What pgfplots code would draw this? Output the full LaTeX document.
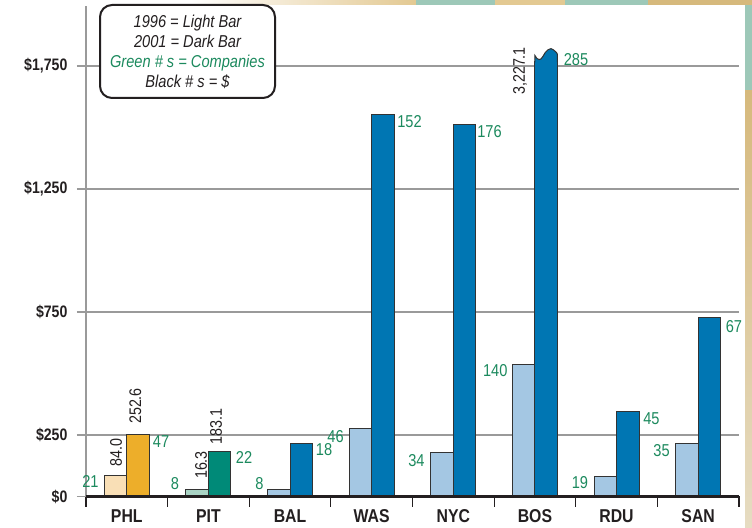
\documentclass[border=0pt]{standalone}
\usepackage{pgfplots}
\pgfplotsset{compat=1.18}
\usepackage{fontspec}
\setmainfont{Liberation Sans}[FakeStretch=0.85]
\definecolor{txt}{HTML}{231F20}
\definecolor{gnum}{HTML}{1C8A5E}
\definecolor{gridc}{HTML}{9A9A9A}
\definecolor{barline}{HTML}{333333}
\definecolor{phlL}{HTML}{F9DFB6}
\definecolor{phlD}{HTML}{EDAE2A}
\definecolor{pitL}{HTML}{A9D3C4}
\definecolor{pitD}{HTML}{008A78}
\definecolor{bluL}{HTML}{A4C7E3}
\definecolor{bluD}{HTML}{0076B3}
\definecolor{tanA}{HTML}{E3C992}
\definecolor{tanB}{HTML}{D6B97C}
\definecolor{tanC}{HTML}{E6DCC2}
\definecolor{tealA}{HTML}{9DC8B8}
\begin{document}
\begin{tikzpicture}
\useasboundingbox (0,0) rectangle (376pt,264pt);
\fill[white] (0,0) rectangle (376pt,264pt);
% decorative strips
\shade[left color=white, right color=tanA] (95pt,261.5pt) rectangle (208pt,264pt);
\fill[tealA] (208pt,261.5pt) rectangle (247.5pt,264pt);
\fill[tanA] (247.5pt,261.5pt) rectangle (282.5pt,264pt);
\fill[tealA] (282.5pt,261.5pt) rectangle (324pt,264pt);
\fill[tanB] (324pt,261.5pt) rectangle (376pt,264pt);
\shade[top color=tanB, bottom color=tanC] (372.5pt,0pt) rectangle (376pt,219pt);
\fill[tealA] (372.5pt,219pt) rectangle (376pt,261.5pt);
\begin{axis}[
  scale only axis, width=326.5pt, height=245.25pt,
  at={(43pt,15.75pt)}, anchor=south west,
  xmin=-0.5, xmax=7.5, ymin=0, ymax=1994,
  axis x line*=bottom, axis y line*=left,
  x axis line style={line width=1.5pt, draw=txt},
  y axis line style={line width=0.6pt, draw=gridc},
  xtick={0,...,7}, xticklabels={PHL,PIT,BAL,WAS,NYC,BOS,RDU,SAN},
  minor xtick={-0.5,0.5,...,7.5},
  every major x tick/.append style={draw=none},
  every minor x tick/.append style={draw=txt, line width=0.6pt},
  minor tick length=5.25pt,
  ytick={0,250,750,1250,1750},
  yticklabels={\$0,\$250,\$750,{\$1,250},{\$1,750}},
  major tick length=4.5pt,
  every major y tick/.append style={draw=gridc, line width=0.6pt},
  tick align=outside,
  ymajorgrids, grid style={draw=gridc, line width=0.65pt},
  yticklabel style={font=\fontsize{8.3}{9}\selectfont\bfseries, text=txt, anchor=east, inner sep=0pt, xshift=-4.6pt},
  xticklabel style={font=\fontsize{9.3}{10}\selectfont\bfseries, text=txt, anchor=north, inner sep=0pt, yshift=-2pt},
  clip=false,
]
% light bars
\addplot[ybar, bar width=11.25pt, bar shift=-5.625pt, fill=phlL, draw=barline, line width=0.5pt] coordinates {(0,84.0)};
\addplot[ybar, bar width=11.25pt, bar shift=5.625pt, fill=phlD, draw=barline, line width=0.5pt] coordinates {(0,252.6)};
\addplot[ybar, bar width=11.25pt, bar shift=-5.625pt, fill=pitL, draw=barline, line width=0.5pt] coordinates {(1,30)};
\addplot[ybar, bar width=11.25pt, bar shift=5.625pt, fill=pitD, draw=barline, line width=0.5pt] coordinates {(1,183.1)};
\addplot[ybar, bar width=11.25pt, bar shift=-5.625pt, fill=bluL, draw=barline, line width=0.5pt] coordinates {(2,30) (3,277) (4,180) (5,537) (6,83) (7,214)};
\addplot[ybar, bar width=11.25pt, bar shift=5.625pt, fill=bluD, draw=barline, line width=0.5pt] coordinates {(2,216) (3,1551) (4,1513) (5,1770) (6,346) (7,726)};
% broken top of BOS bar
\fill[bluD] (axis cs:5,1765) -- (axis cs:5,1793) .. controls (axis cs:5.03,1772) and (axis cs:5.07,1770) .. (axis cs:5.10,1790) .. controls (axis cs:5.13,1812) and (axis cs:5.19,1830) .. (axis cs:5.23,1815) .. controls (axis cs:5.26,1806) and (axis cs:5.2757,1803) .. (axis cs:5.2757,1798) -- (axis cs:5.2757,1765) -- cycle;
\draw[barline, line width=0.5pt] (axis cs:5,1765) -- (axis cs:5,1793) .. controls (axis cs:5.03,1772) and (axis cs:5.07,1770) .. (axis cs:5.10,1790) .. controls (axis cs:5.13,1812) and (axis cs:5.19,1830) .. (axis cs:5.23,1815) .. controls (axis cs:5.26,1806) and (axis cs:5.2757,1803) .. (axis cs:5.2757,1798) -- (axis cs:5.2757,1765);
% baseline
\draw[txt, line width=1.5pt] (axis cs:-0.5,0) -- (axis cs:7.5,0);
% green company counts
\begin{scope}[every node/.style={font=\fontsize{8.6}{9}\selectfont, text=gnum, inner sep=0pt}]
\node at (axis cs:-0.445,61) {21};
\node at (axis cs:0.419,225) {47};
\node at (axis cs:0.590,51) {8};
\node at (axis cs:1.436,160) {22};
\node at (axis cs:1.626,51) {8};
\node at (axis cs:2.416,189) {18};
\node at (axis cs:2.557,243) {46};
\node at (axis cs:3.463,1523) {152};
\node at (axis cs:3.549,144) {34};
\node at (axis cs:4.443,1483) {176};
\node at (axis cs:4.514,510) {140};
\node at (axis cs:5.503,1777) {285};
\node at (axis cs:5.552,55) {19};
\node at (axis cs:6.428,315) {45};
\node at (axis cs:6.551,185) {35};
\node at (axis cs:7.439,692) {67};
\end{scope}
% dollar values
\begin{scope}[every node/.style={font=\fontsize{8.4}{9}\selectfont, text=txt, inner sep=0pt, rotate=90}]
\node at (axis cs:-0.132,179) {84.0};
\node at (axis cs:0.106,368) {252.6};
\node at (axis cs:0.909,128) {16.3};
\node at (axis cs:1.093,284) {183.1};
\node at (axis cs:4.817,1730) {3,227.1};
\end{scope}
\end{axis}
\node[draw=txt, line width=1pt, rounded corners=6pt, fill=white, minimum width=87.5pt, minimum height=46.5pt, align=center, inner sep=0pt, font=\fontsize{8.6}{10}\selectfont\itshape, text=txt] at (93.75pt,238.25pt) {1996 = Light Bar\\2001 = Dark Bar\\\textcolor{gnum}{Green \# s = Companies}\\Black \# s = \$};
\end{tikzpicture}
\end{document}
